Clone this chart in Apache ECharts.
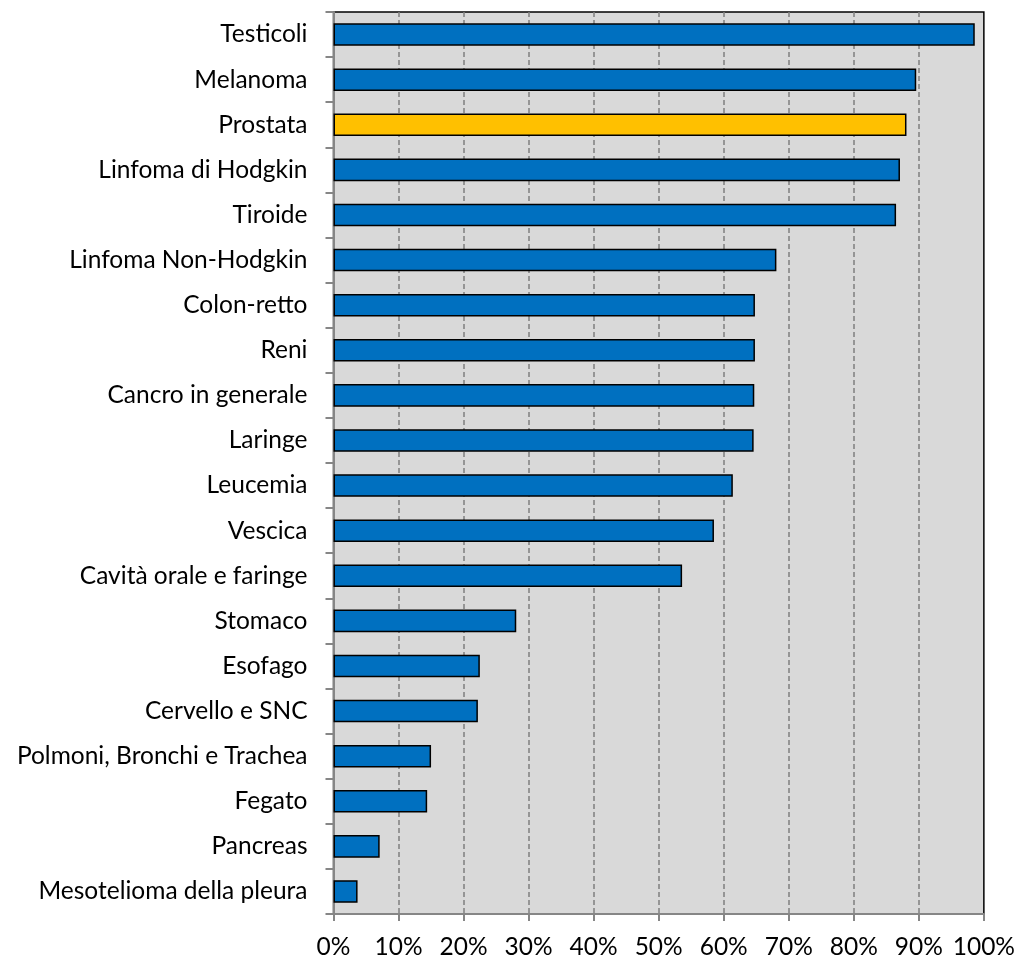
<!DOCTYPE html>
<html>
<head>
<meta charset="utf-8">
<script src="https://cdn.jsdelivr.net/npm/echarts@6/dist/echarts.min.js"></script>
<style>
  html, body { margin: 0; padding: 0; background: #fff; }
  #chart { width: 1018px; height: 960px; }
</style>
</head>
<body>
<div id="chart"></div>
<script>
// sopravvivenza a 5 anni per tipo di tumore (dall'alto in basso)
const categories = [
  'Testicoli', 'Melanoma', 'Prostata', 'Linfoma di Hodgkin', 'Tiroide',
  'Linfoma Non-Hodgkin', 'Colon-retto', 'Reni', 'Cancro in generale', 'Laringe',
  'Leucemia', 'Vescica', 'Cavità orale e faringe', 'Stomaco', 'Esofago',
  'Cervello e SNC', 'Polmoni, Bronchi e Trachea', 'Fegato', 'Pancreas',
  'Mesotelioma della pleura'
];
const values = [
  98.6, 89.6, 88.1, 87.1, 86.5,
  68.1, 64.8, 64.8, 64.7, 64.6,
  61.4, 58.5, 53.6, 28.1, 22.5,
  22.2, 15.0, 14.4, 7.1, 3.7
];
const highlight = 'Prostata';
const xTicks = ['0%', '10%', '20%', '30%', '40%', '50%', '60%', '70%', '80%', '90%', '100%'];

const font = 'Lato';
const chart = echarts.init(document.getElementById('chart'));

chart.setOption({
  animation: false,
  grid: {
    left: 333.5, right: 31.5, top: 12, bottom: 45,
    show: true,
    backgroundColor: '#d9d9d9',
    borderColor: '#000',
    borderWidth: 1.5
  },
  xAxis: {
    type: 'value',
    min: 0, max: 100, interval: 10,
    axisLine: { show: true, lineStyle: { color: '#868686', width: 2 } },
    axisTick: { show: true, length: 7, lineStyle: { color: '#868686', width: 2 } },
    splitLine: {
      show: true, showMinLine: false, showMaxLine: false,
      lineStyle: { color: '#7f7f7f', type: [5, 3], width: 1.5 }
    },
    axisLabel: {
      margin: 21,
      fontFamily: font, fontSize: 24.5, color: '#000',
      formatter: function (v) { return xTicks[Math.round(v / 10)]; }
    }
  },
  yAxis: {
    type: 'category',
    data: categories,
    inverse: true,
    axisLine: { show: true, lineStyle: { color: '#868686', width: 2 } },
    axisTick: { show: true, length: 8, lineStyle: { color: '#868686', width: 2 } },
    axisLabel: { margin: 26, fontFamily: font, fontSize: 24.5, color: '#000' }
  },
  series: [{
    type: 'bar',
    barCategoryGap: '50%',
    data: values.map(function (v, i) {
      return {
        value: v,
        itemStyle: { color: categories[i] === highlight ? '#ffc000' : '#0070c0' }
      };
    }),
    itemStyle: { borderColor: '#000', borderWidth: 1.5 }
  }]
});
</script>
</body>
</html>
